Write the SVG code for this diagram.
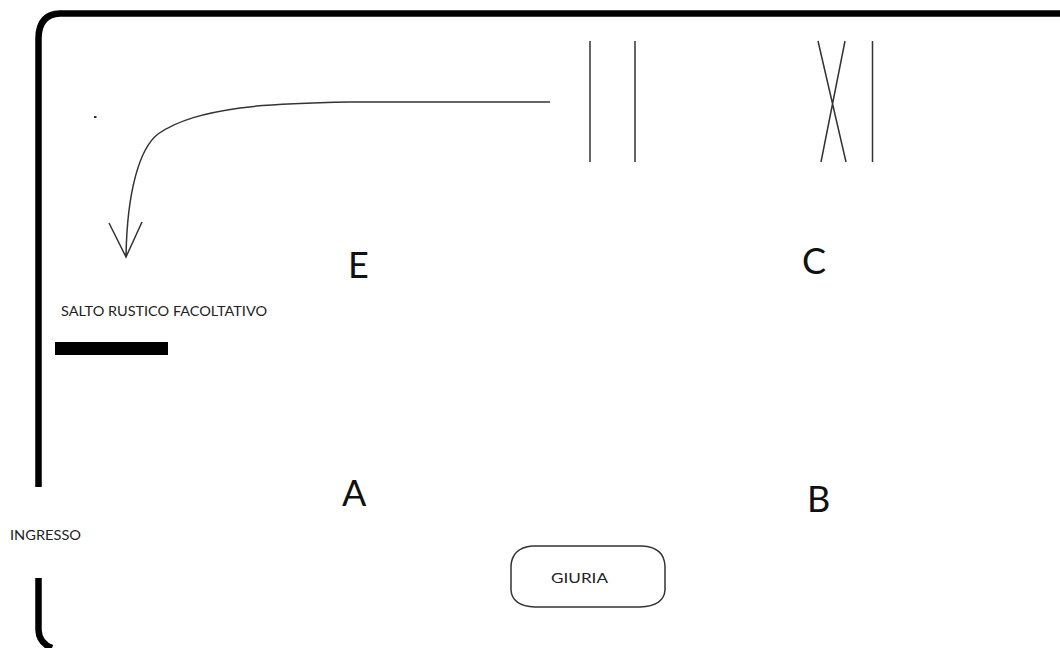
<svg xmlns="http://www.w3.org/2000/svg" width="1060" height="648" viewBox="0 0 1060 648">
<style>
text{font-family:Lato,"Open Sans","Liberation Sans",sans-serif;fill:#222}
.big{font-size:36px;fill:#111}
.small{font-size:14px}
.thin{fill:none;stroke:#333;stroke-width:1.5}
</style>
<rect width="1060" height="648" fill="#fff"/>
<g id="arena"><path d="M1060 13.500H60Q39 14 38.500 38V487M38.500 578V630Q39 643 52 648" fill="none" stroke="#000" stroke-width="6.500"/></g>
<g id="connectors"><path class="thin" d="M550 102H350C300 103 260 105 240 108C205 113 178 120 158 134C140 148 127 190 126 257M109 223L126 257L142 222"/></g>
<g id="dot"><rect x="94" y="116" width="2.500" height="2" fill="#333"/></g>
<g id="obstacle-vertical"><path class="thin" d="M590 41V162M635 41V162"/></g>
<g id="obstacle-cross"><path class="thin" d="M818 41L846 162M845 41L821 162M872.500 41V162"/></g>
<g id="label-e"><text class="big" x="348" y="278">E</text></g>
<g id="label-c"><text class="big" x="802" y="274">C</text></g>
<g id="label-a"><text class="big" x="342" y="506">A</text></g>
<g id="label-b"><text class="big" x="807" y="512">B</text></g>
<g id="salto"><text class="small" x="61" y="316" textLength="206" lengthAdjust="spacingAndGlyphs">SALTO RUSTICO FACOLTATIVO</text><rect x="55" y="342" width="113" height="13" fill="#000"/></g>
<g id="ingresso"><text class="small" x="10" y="540" textLength="71" lengthAdjust="spacingAndGlyphs">INGRESSO</text></g>
<g id="giuria"><path d="M532 546H642Q664 547 665 566V590Q664 606 640 607H535Q512 606 511 590V566Q512 548 532 546Z" fill="#fff" stroke="#333" stroke-width="1.500"/><text class="small" x="551" y="583" textLength="57" lengthAdjust="spacingAndGlyphs">GIURIA</text></g>
</svg>
